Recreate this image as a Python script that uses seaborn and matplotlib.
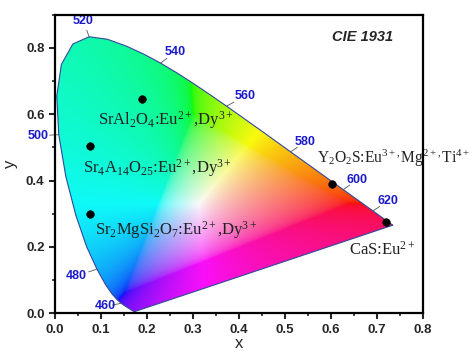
import numpy as np
import pandas as pd
import matplotlib
matplotlib.use("Agg")
import matplotlib.pyplot as plt
from matplotlib.patches import Polygon
from matplotlib.ticker import MultipleLocator
import seaborn as sns

# CIE 1931 2-degree spectral locus (chromaticity coordinates, 5 nm steps)
locus_nm = [380, 385, 390, 395, 400, 405, 410, 415, 420, 425, 430, 435, 440, 445,
            450, 455, 460, 465, 470, 475, 480, 485, 490, 495, 500, 505, 510, 515,
            520, 525, 530, 535, 540, 545, 550, 555, 560, 565, 570, 575, 580, 585,
            590, 595, 600, 605, 610, 615, 620, 625, 630, 635, 640, 645, 650, 655,
            660, 665, 670, 675, 680, 700]
locus_x = [0.1741, 0.1740, 0.1738, 0.1736, 0.1733, 0.1730, 0.1726, 0.1721, 0.1714,
           0.1703, 0.1689, 0.1669, 0.1644, 0.1611, 0.1566, 0.1510, 0.1440, 0.1355,
           0.1241, 0.1096, 0.0913, 0.0687, 0.0454, 0.0235, 0.0082, 0.0039, 0.0139,
           0.0389, 0.0743, 0.1142, 0.1547, 0.1929, 0.2296, 0.2658, 0.3016, 0.3373,
           0.3731, 0.4087, 0.4441, 0.4788, 0.5125, 0.5448, 0.5752, 0.6029, 0.6270,
           0.6482, 0.6658, 0.6801, 0.6915, 0.7006, 0.7079, 0.7140, 0.7190, 0.7230,
           0.7260, 0.7283, 0.7300, 0.7311, 0.7320, 0.7327, 0.7334, 0.7347]
locus_y = [0.0050, 0.0050, 0.0049, 0.0049, 0.0048, 0.0048, 0.0048, 0.0048, 0.0051,
           0.0058, 0.0069, 0.0086, 0.0109, 0.0138, 0.0177, 0.0227, 0.0297, 0.0399,
           0.0578, 0.0868, 0.1327, 0.2007, 0.2950, 0.4127, 0.5384, 0.6548, 0.7502,
           0.8120, 0.8338, 0.8262, 0.8059, 0.7816, 0.7543, 0.7243, 0.6923, 0.6589,
           0.6245, 0.5896, 0.5547, 0.5202, 0.4866, 0.4544, 0.4242, 0.3965, 0.3725,
           0.3514, 0.3340, 0.3197, 0.3083, 0.2993, 0.2920, 0.2859, 0.2809, 0.2770,
           0.2740, 0.2717, 0.2700, 0.2689, 0.2680, 0.2673, 0.2666, 0.2653]

# wavelength labels
wl_labels = [460, 480, 500, 520, 540, 560, 580, 600, 620]
wl_label_x = [0.109, 0.046, -0.036, 0.062, 0.262, 0.414, 0.545, 0.657, 0.724]
wl_label_y = [0.020, 0.112, 0.535, 0.880, 0.788, 0.655, 0.517, 0.402, 0.338]

# phosphor points
names = ["SrAl$_2$O$_4$:Eu$^{2+}$,Dy$^{3+}$",
         "Sr$_4$A$_{14}$O$_{25}$:Eu$^{2+}$,Dy$^{3+}$",
         "Sr$_2$MgSi$_2$O$_7$:Eu$^{2+}$,Dy$^{3+}$",
         "Y$_2$O$_2$S:Eu$^{3+,}$Mg$^{2+,}$Ti$^{4+}$",
         "CaS:Eu$^{2+}$"]
pt_x = [0.189, 0.076, 0.076, 0.602, 0.720]
pt_y = [0.646, 0.504, 0.299, 0.390, 0.275]
lab_x = [0.094, 0.061, 0.087, 0.570, 0.639]
lab_y = [0.582, 0.438, 0.252, 0.466, 0.190]
lab_size = [12, 12, 12, 11.2, 12]

sns.set_style("ticks")
plt.rcParams['font.family'] = ['Liberation Sans', 'DejaVu Sans']
plt.rcParams['mathtext.fontset'] = 'custom'
plt.rcParams['mathtext.rm'] = 'Liberation Serif'
plt.rcParams['mathtext.it'] = 'Liberation Serif:italic'
plt.rcParams['mathtext.bf'] = 'Liberation Serif:bold'

fig = plt.figure(figsize=(4.74, 3.53), dpi=100)
ax = fig.add_axes([0.116, 0.113, 0.776, 0.845])
ax.set_xlim(0, 0.8)
ax.set_ylim(0, 0.9)

# colour fill of the gamut
n = 500
gx, gy = np.meshgrid(np.linspace(0, 0.8, n), np.linspace(0.0005, 0.9, n))
X = gx / gy
Y = np.ones_like(gx)
Z = (1 - gx - gy) / gy
M = np.array([[3.2406, -1.5372, -0.4986],
              [-0.9689, 1.8758, 0.0415],
              [0.0557, -0.2040, 1.0570]])
rgb = np.stack([M[i, 0] * X + M[i, 1] * Y + M[i, 2] * Z for i in range(3)], axis=-1)
mn = np.minimum(rgb.min(axis=-1, keepdims=True), 0)
rgb = rgb - mn
rgb = rgb / np.maximum(rgb.max(axis=-1, keepdims=True), 1e-9)
rgb = np.where(rgb <= 0.0031308, 12.92 * rgb, 1.055 * np.power(rgb, 1 / 2.4) - 0.055)
rgb = np.clip(rgb, 0, 1)
rgb = 0.92 * rgb + 0.06
im = ax.imshow(np.clip(rgb, 0, 1), origin="lower", extent=(0, 0.8, 0.0005, 0.9),
               aspect="auto", interpolation="bilinear", zorder=1)
poly = Polygon(np.column_stack([locus_x, locus_y]), closed=True,
               facecolor="none", edgecolor="none", transform=ax.transData)
ax.add_patch(poly)
im.set_clip_path(poly)

# locus outline
df_loc = pd.DataFrame({"x": locus_x + [locus_x[0]], "y": locus_y + [locus_y[0]]})
sns.lineplot(data=df_loc, x="x", y="y", sort=False, estimator=None, ax=ax,
             color="#34489a", lw=0.8, zorder=3)

# wavelength tick marks and labels
for wl, tx, ty in zip(wl_labels, wl_label_x, wl_label_y):
    i = locus_nm.index(wl)
    lx, ly = locus_x[i], locus_y[i]
    dx, dy = tx - lx, ty - ly
    d = np.hypot(dx, dy)
    ax.plot([lx, lx + dx / d * 0.02], [ly, ly + dy / d * 0.02], color="#555555",
            lw=0.6, zorder=3, clip_on=False)
    ax.text(tx, ty, str(wl), color="#1a1acc", fontsize=9, fontweight="bold",
            ha="center", va="center", zorder=5, clip_on=False)

# phosphor points
df_pt = pd.DataFrame({"x": pt_x, "y": pt_y})
sns.scatterplot(data=df_pt, x="x", y="y", ax=ax, color="black", s=30,
                edgecolor="black", zorder=6, clip_on=False)
for nm, tx, ty, fs in zip(names, lab_x, lab_y, lab_size):
    ax.text(tx, ty, nm, family="Liberation Serif", fontsize=fs, color="#222222",
            ha="left", va="center", zorder=7, clip_on=False)

ax.text(0.735, 0.833, "CIE 1931", fontsize=10.5, fontweight="bold", fontstyle="italic",
        ha="right", va="center", zorder=7)

ax.set_xticks(np.arange(0, 0.81, 0.1))
ax.set_xticklabels([f"{v:.1f}" for v in np.arange(0, 0.81, 0.1)])
ax.set_yticks(np.arange(0, 0.81, 0.2))
ax.set_yticklabels([f"{v:.1f}" for v in np.arange(0, 0.81, 0.2)])
ax.xaxis.set_minor_locator(MultipleLocator(0.05))
ax.yaxis.set_minor_locator(MultipleLocator(0.1))
ax.tick_params(which="major", direction="out", length=4, width=1.5, labelsize=9.5)
ax.tick_params(which="minor", direction="out", length=2.5, width=1.2)
for lab in ax.get_xticklabels() + ax.get_yticklabels():
    lab.set_fontweight("bold")
for sp in ax.spines.values():
    sp.set_linewidth(1.6)
    sp.set_color("black")
    sp.set_zorder(8)
ax.set_xlabel("x", fontsize=12, labelpad=0)
ax.set_ylabel("y", fontsize=12, labelpad=6)

fig.savefig("out.png", dpi=100)
